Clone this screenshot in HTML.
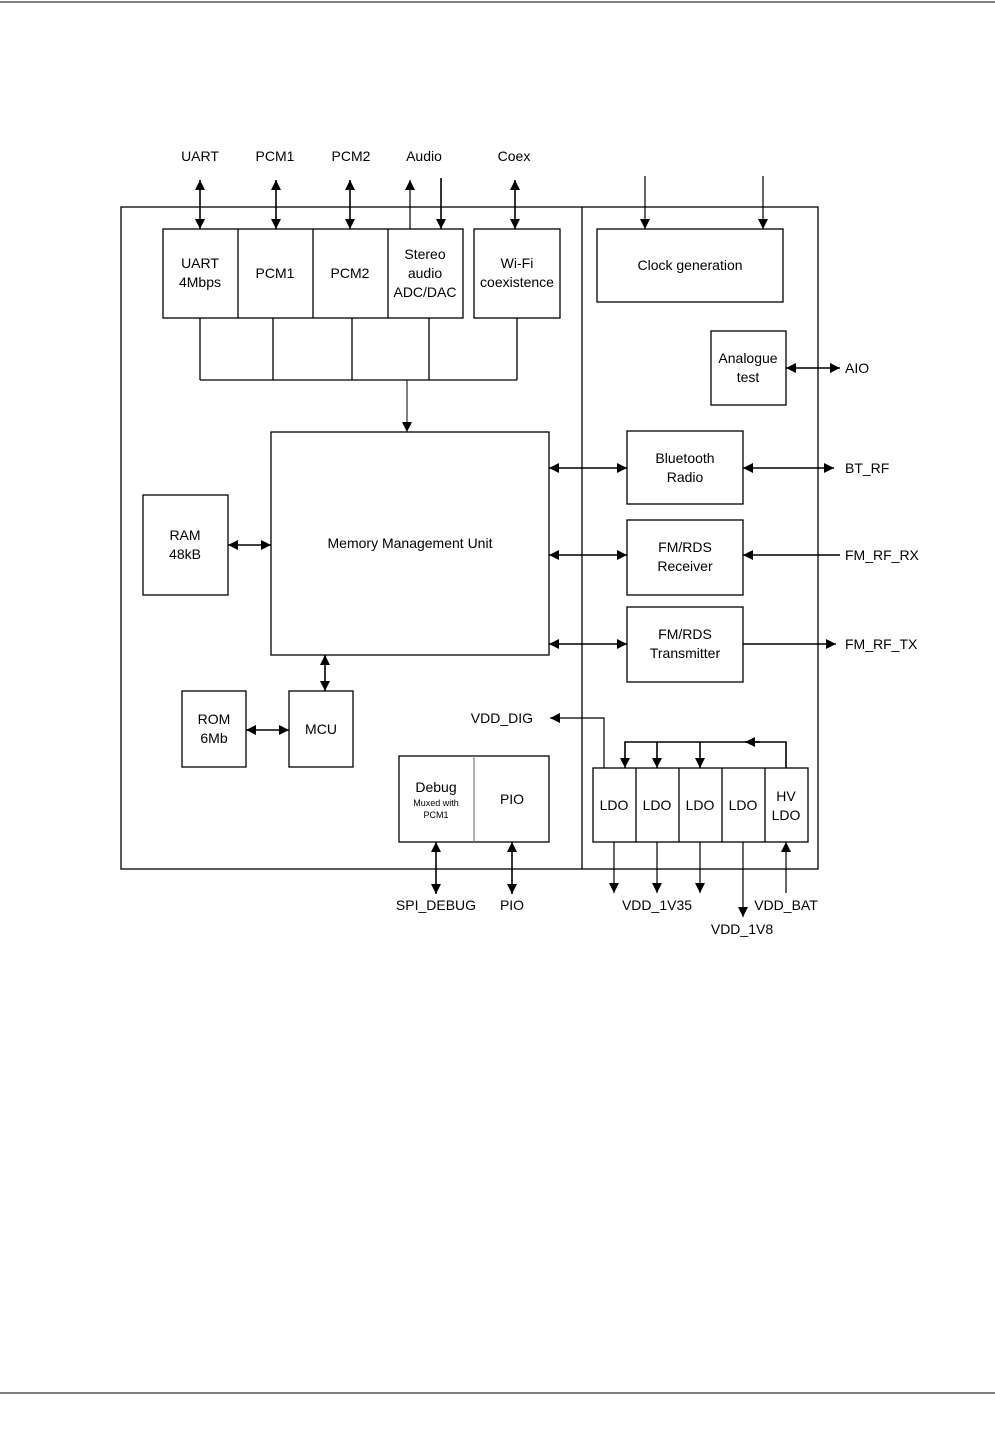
<!DOCTYPE html>
<html><head><style>
html,body{margin:0;padding:0;background:#fff;width:995px;height:1456px;overflow:hidden}
svg text{font-family:"Liberation Sans",Arial,sans-serif;font-size:14px;fill:#000}
</style></head><body>
<svg width="995" height="1456" viewBox="0 0 995 1456" xmlns="http://www.w3.org/2000/svg">
<defs>
<marker id="a" viewBox="0 0 10 10" refX="10" refY="5" markerWidth="10" markerHeight="10" markerUnits="userSpaceOnUse" orient="auto-start-reverse"><path d="M0,0L10,5L0,10z" fill="#000"/></marker>
</defs>
<line x1="0" y1="2" x2="995" y2="2" stroke="#000" stroke-width="1"/>
<line x1="0" y1="1393" x2="995" y2="1393" stroke="#000" stroke-width="1"/>
<g fill="none" stroke="#000" stroke-width="1.3">
<rect x="121" y="207" width="697" height="662"/>
<line x1="582" y1="207" x2="582" y2="869"/>
<rect x="163" y="229" width="300" height="89"/>
<line x1="238" y1="229" x2="238" y2="318"/><line x1="313" y1="229" x2="313" y2="318"/><line x1="388" y1="229" x2="388" y2="318"/>
<rect x="474" y="229" width="86" height="89"/>
<path d="M200 318V380M273 318V380M352 318V380M429 318V380M517 318V380M200 380H517"/>
<rect x="597" y="229" width="186" height="73"/>
<rect x="711" y="331" width="75" height="74"/>
<rect x="271" y="432" width="278" height="223"/>
<rect x="627" y="431" width="116" height="73"/>
<rect x="627" y="520" width="116" height="75"/>
<rect x="627" y="607" width="116" height="75"/>
<rect x="143" y="495" width="85" height="100"/>
<rect x="182" y="691" width="64" height="76"/>
<rect x="289" y="691" width="64" height="76"/>
<rect x="399" y="756" width="150" height="86"/>
<line x1="474" y1="756" x2="474" y2="842" stroke="#888"/>
<rect x="593" y="768" width="215" height="74"/>
<path d="M636 768V842M679 768V842M722 768V842M765 768V842"/>
</g>
<g stroke="#000" stroke-width="1.6" fill="none">
<line x1="200" y1="180" x2="200" y2="229" marker-start="url(#a)" marker-end="url(#a)"/>
<line x1="276" y1="180" x2="276" y2="229" marker-start="url(#a)" marker-end="url(#a)"/>
<line x1="350" y1="180" x2="350" y2="229" marker-start="url(#a)" marker-end="url(#a)"/>
<line x1="410" y1="229" x2="410" y2="180" stroke-width="1.2" marker-end="url(#a)"/>
<line x1="441" y1="178" x2="441" y2="229" marker-end="url(#a)"/>
<line x1="515" y1="180" x2="515" y2="229" marker-start="url(#a)" marker-end="url(#a)"/>
<line x1="645" y1="176" x2="645" y2="229" stroke-width="1.2" marker-end="url(#a)"/>
<line x1="763" y1="176" x2="763" y2="229" stroke-width="1.2" marker-end="url(#a)"/>
<line x1="407" y1="380" x2="407" y2="432" stroke-width="1" marker-end="url(#a)"/>
<line x1="786" y1="368" x2="840" y2="368" marker-start="url(#a)" marker-end="url(#a)"/>
<line x1="549" y1="468" x2="627" y2="468" marker-start="url(#a)" marker-end="url(#a)"/>
<line x1="743" y1="468" x2="834" y2="468" marker-start="url(#a)" marker-end="url(#a)"/>
<line x1="549" y1="555" x2="627" y2="555" marker-start="url(#a)" marker-end="url(#a)"/>
<line x1="840" y1="555" x2="743" y2="555" marker-end="url(#a)"/>
<line x1="549" y1="644" x2="627" y2="644" marker-start="url(#a)" marker-end="url(#a)"/>
<line x1="743" y1="644" x2="836" y2="644" marker-end="url(#a)"/>
<line x1="228" y1="545" x2="271" y2="545" marker-start="url(#a)" marker-end="url(#a)"/>
<line x1="246" y1="730" x2="289" y2="730" marker-start="url(#a)" marker-end="url(#a)"/>
<line x1="325" y1="655" x2="325" y2="691" marker-start="url(#a)" marker-end="url(#a)"/>
<line x1="436" y1="842" x2="436" y2="894" marker-start="url(#a)" marker-end="url(#a)"/>
<line x1="512" y1="842" x2="512" y2="894" marker-start="url(#a)" marker-end="url(#a)"/>
<path d="M604 768V718H550" stroke-width="1.2" marker-end="url(#a)"/>
<path d="M786 768V742H625V768" marker-end="url(#a)"/>
<line x1="760" y1="742" x2="745" y2="742" marker-end="url(#a)"/>
<line x1="657" y1="742" x2="657" y2="768" marker-end="url(#a)"/>
<line x1="700" y1="742" x2="700" y2="768" marker-end="url(#a)"/>
<line x1="614" y1="842" x2="614" y2="893" stroke-width="1.2" marker-end="url(#a)"/>
<line x1="657" y1="842" x2="657" y2="893" stroke-width="1.2" marker-end="url(#a)"/>
<line x1="700" y1="842" x2="700" y2="893" stroke-width="1.2" marker-end="url(#a)"/>
<line x1="743" y1="842" x2="743" y2="917" stroke-width="1.2" marker-end="url(#a)"/>
<line x1="786" y1="893" x2="786" y2="842" stroke-width="1.2" marker-end="url(#a)"/>
</g>
<g text-anchor="middle">
<text x="200" y="161">UART</text><text x="275" y="161">PCM1</text><text x="351" y="161">PCM2</text><text x="424" y="161">Audio</text><text x="514" y="161">Coex</text>
<text x="200" y="268">UART</text><text x="200" y="287">4Mbps</text>
<text x="275" y="278">PCM1</text><text x="350" y="278">PCM2</text>
<text x="425" y="259">Stereo</text><text x="425" y="278">audio</text><text x="425" y="297">ADC/DAC</text>
<text x="517" y="268">Wi-Fi</text><text x="517" y="287">coexistence</text>
<text x="690" y="270">Clock generation</text>
<text x="748" y="363">Analogue</text><text x="748" y="382">test</text>
<text x="410" y="548">Memory Management Unit</text>
<text x="685" y="463">Bluetooth</text><text x="685" y="482">Radio</text>
<text x="685" y="552">FM/RDS</text><text x="685" y="571">Receiver</text>
<text x="685" y="639">FM/RDS</text><text x="685" y="658">Transmitter</text>
<text x="185" y="540">RAM</text><text x="185" y="559">48kB</text>
<text x="214" y="724">ROM</text><text x="214" y="743">6Mb</text>
<text x="321" y="734">MCU</text>
<text x="436" y="792">Debug</text><text x="436" y="806" style="font-size:9px">Muxed with</text><text x="436" y="818" style="font-size:9px">PCM1</text>
<text x="512" y="804">PIO</text>
<text x="614" y="810">LDO</text><text x="657" y="810">LDO</text><text x="700" y="810">LDO</text><text x="743" y="810">LDO</text>
<text x="786" y="801">HV</text><text x="786" y="820">LDO</text>
<text x="436" y="910">SPI_DEBUG</text><text x="512" y="910">PIO</text>
<text x="657" y="910">VDD_1V35</text><text x="742" y="934">VDD_1V8</text><text x="786" y="910">VDD_BAT</text>
</g>
<text x="845" y="373">AIO</text>
<text x="845" y="473">BT_RF</text>
<text x="845" y="560">FM_RF_RX</text>
<text x="845" y="649">FM_RF_TX</text>
<text x="533" y="723" text-anchor="end">VDD_DIG</text>
</svg>
</body></html>
